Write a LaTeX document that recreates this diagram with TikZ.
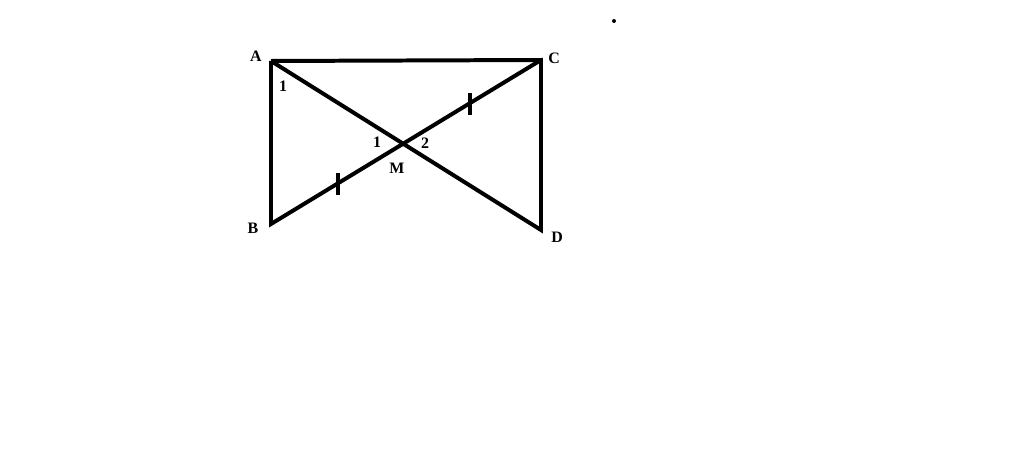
\documentclass[tikz,border=0pt]{standalone}
\usepackage{fontspec}
\setmainfont{Liberation Serif}

\begin{document}
\begin{tikzpicture}
        [%%%%%%%%%%%%%%%%%%%%%%%%%%%%%%
        x=0.0264583cm, y=-0.0264583cm,
        seg/.style={draw=black, line width=3pt},
        tick/.style={draw=black, line width=2.4pt},
        lbl/.style={font=\fontsize{12}{14}\selectfont\bfseries, inner sep=0pt},
        ]%%%%%%%%%%%%%%%%%%%%%%%%%%%%%%

        \useasboundingbox (0,0) rectangle (1024,451);

        \coordinate (A) at (271,61);
        \coordinate (C) at (541,60);
        \coordinate (B) at (271,224);
        \coordinate (D) at (541,230);
        \coordinate (M) at (intersection of A--D and B--C);

        \draw[seg] (A) -- (C) -- (D) -- (A);
        \draw[seg] (A) -- (B) -- (C);

        % equal marks
        \coordinate (t1) at (470,104);
        \coordinate (t2) at (338,184);
        \foreach \t in {t1,t2}
          \draw[tick] ([yshift=-8]\t) -- ([yshift=8]\t);

        \node[lbl] (lA) at (256,56) {A};
        \node[lbl] (lC) at (554,58) {C};
        \node[lbl] (lB) at (253,228) {B};
        \node[lbl] (lD) at (557,237) {D};
        \node[lbl] (lM) at (397,168) {M};
        \node[lbl] (a1) at (283,86) {1};
        \node[lbl] (m1) at (377,142) {1};
        \node[lbl] (m2) at (425,143) {2};

        \fill (614,21) circle (2);

      \end{tikzpicture}
\end{document}
